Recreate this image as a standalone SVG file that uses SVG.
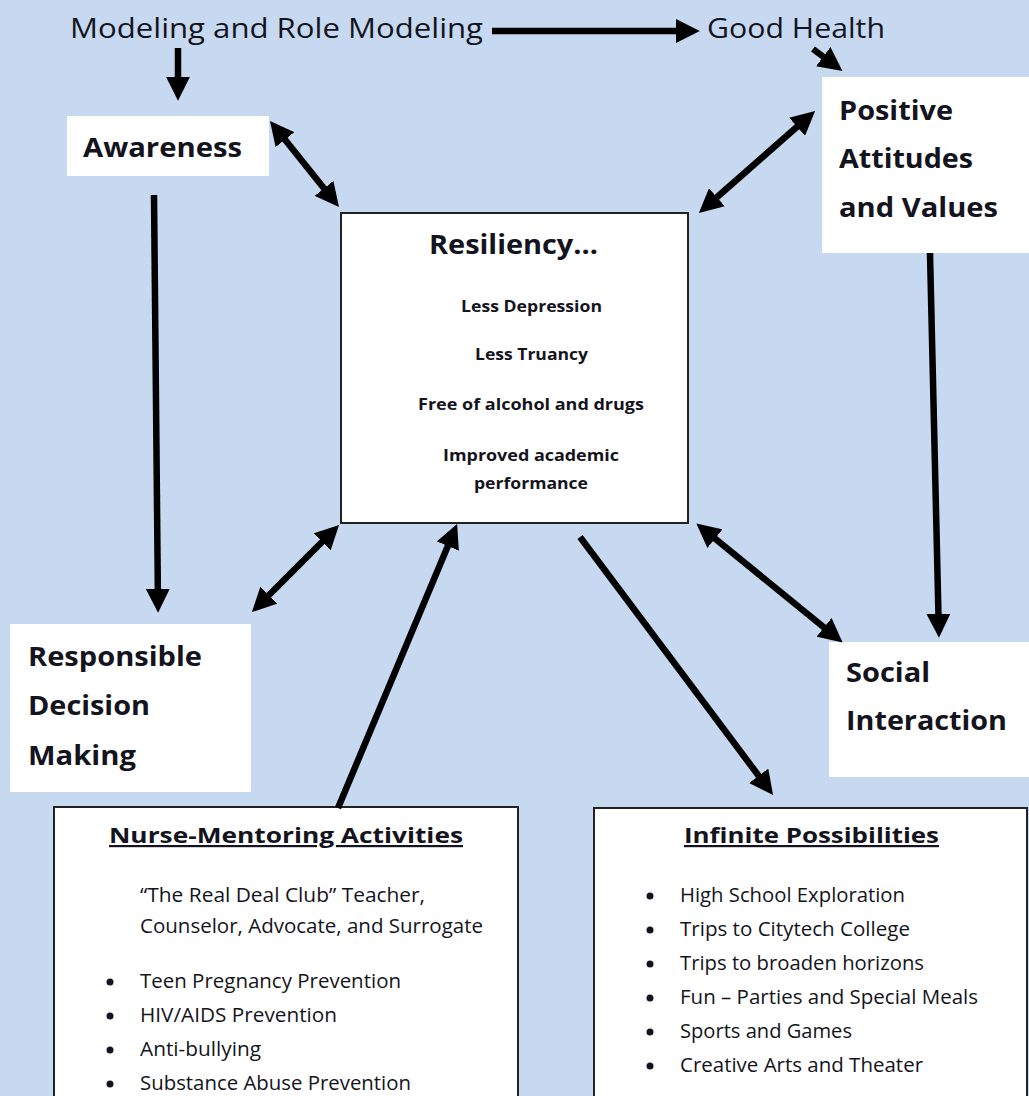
<svg xmlns="http://www.w3.org/2000/svg" width="1029" height="1096" viewBox="0 0 1029 1096">
<style>
text{font-family:"Open Sans","Liberation Sans",sans-serif;fill:#141420}
.top{font-size:28px}
.lbl{font-size:26px;font-weight:bold}
.item{font-size:16px;font-weight:bold}
.head{font-size:22px;font-weight:bold;text-decoration:underline}
.li{font-size:20px}
.plain{fill:#ffffff}
.boxed{fill:#ffffff;stroke:#222;stroke-width:2}
.conn line{stroke:#000;stroke-width:6.5;fill:none}
.one{marker-end:url(#ah)}
.two{marker-start:url(#ah);marker-end:url(#ah)}
</style>
<defs>
<marker id="ah" viewBox="0 0 10 10" refX="3" refY="5" markerWidth="24" markerHeight="24" markerUnits="userSpaceOnUse" orient="auto-start-reverse">
<path d="M0,0 L10,5 L0,10 z" fill="#000"/>
</marker>
</defs>
<rect x="0" y="0" width="1029" height="1096" fill="#c6d9f0"/>

<g id="modeling">
<text class="top" x="70" y="38" textLength="413" lengthAdjust="spacingAndGlyphs">Modeling and Role Modeling</text>
</g>
<g id="good-health">
<text class="top" x="707" y="38" textLength="178" lengthAdjust="spacingAndGlyphs">Good Health</text>
</g>
<g id="awareness">
<rect class="plain" x="67" y="116" width="202" height="60"/>
<text class="lbl" x="83" y="157" textLength="159" lengthAdjust="spacingAndGlyphs">Awareness</text>
</g>
<g id="positive">
<rect class="plain" x="822" y="77" width="207" height="176"/>
<text class="lbl" x="839" y="120" textLength="114" lengthAdjust="spacingAndGlyphs">Positive</text>
<text class="lbl" x="839" y="168" textLength="134" lengthAdjust="spacingAndGlyphs">Attitudes</text>
<text class="lbl" x="839" y="217" textLength="159" lengthAdjust="spacingAndGlyphs">and Values</text>
</g>
<g id="resiliency">
<rect class="boxed" x="341" y="213" width="347" height="310" stroke-width="1.5"/>
<text class="lbl" x="429" y="254" textLength="169" lengthAdjust="spacingAndGlyphs">Resiliency…</text>
<text class="item" x="461" y="312" textLength="141" lengthAdjust="spacingAndGlyphs">Less Depression</text>
<text class="item" x="475" y="360" textLength="113" lengthAdjust="spacingAndGlyphs">Less Truancy</text>
<text class="item" x="418" y="410" textLength="226" lengthAdjust="spacingAndGlyphs">Free of alcohol and drugs</text>
<text class="item" x="443" y="461" textLength="176" lengthAdjust="spacingAndGlyphs">Improved academic</text>
<text class="item" x="474" y="489" textLength="114" lengthAdjust="spacingAndGlyphs">performance</text>
</g>
<g id="decision">
<rect class="plain" x="10" y="624" width="241" height="168"/>
<text class="lbl" x="28" y="666" textLength="174" lengthAdjust="spacingAndGlyphs">Responsible</text>
<text class="lbl" x="28" y="715" textLength="122" lengthAdjust="spacingAndGlyphs">Decision</text>
<text class="lbl" x="28" y="765" textLength="108" lengthAdjust="spacingAndGlyphs">Making</text>
</g>
<g id="social">
<rect class="plain" x="829" y="642" width="200" height="135"/>
<text class="lbl" x="846" y="682" textLength="84" lengthAdjust="spacingAndGlyphs">Social</text>
<text class="lbl" x="846" y="730" textLength="161" lengthAdjust="spacingAndGlyphs">Interaction</text>
</g>
<g id="nurse">
<rect class="boxed" x="54" y="807" width="464" height="300"/>
<text class="head" x="109" y="843" textLength="354" lengthAdjust="spacingAndGlyphs">Nurse-Mentoring Activities</text>
<text class="li" x="140" y="902" textLength="285" lengthAdjust="spacingAndGlyphs">“The Real Deal Club” Teacher,</text>
<text class="li" x="140" y="933" textLength="343" lengthAdjust="spacingAndGlyphs">Counselor, Advocate, and Surrogate</text>
<circle cx="110" cy="982" r="3.5" fill="#141420"/>
<circle cx="110" cy="1016" r="3.5" fill="#141420"/>
<circle cx="110" cy="1050" r="3.5" fill="#141420"/>
<circle cx="110" cy="1084" r="3.5" fill="#141420"/>
<text class="li" x="140" y="988" textLength="261" lengthAdjust="spacingAndGlyphs">Teen Pregnancy Prevention</text>
<text class="li" x="140" y="1022" textLength="197" lengthAdjust="spacingAndGlyphs">HIV/AIDS Prevention</text>
<text class="li" x="140" y="1056" textLength="121" lengthAdjust="spacingAndGlyphs">Anti-bullying</text>
<text class="li" x="140" y="1090" textLength="271" lengthAdjust="spacingAndGlyphs">Substance Abuse Prevention</text>
</g>
<g id="infinite">
<rect class="boxed" x="594" y="808" width="433" height="300"/>
<text class="head" x="684" y="843" textLength="255" lengthAdjust="spacingAndGlyphs">Infinite Possibilities</text>
<circle cx="650" cy="896" r="3.5" fill="#141420"/>
<circle cx="650" cy="930" r="3.5" fill="#141420"/>
<circle cx="650" cy="964" r="3.5" fill="#141420"/>
<circle cx="650" cy="998" r="3.5" fill="#141420"/>
<circle cx="650" cy="1032" r="3.5" fill="#141420"/>
<circle cx="650" cy="1066" r="3.5" fill="#141420"/>
<text class="li" x="680" y="902" textLength="225" lengthAdjust="spacingAndGlyphs">High School Exploration</text>
<text class="li" x="680" y="936" textLength="230" lengthAdjust="spacingAndGlyphs">Trips to Citytech College</text>
<text class="li" x="680" y="970" textLength="244" lengthAdjust="spacingAndGlyphs">Trips to broaden horizons</text>
<text class="li" x="680" y="1004" textLength="298" lengthAdjust="spacingAndGlyphs">Fun – Parties and Special Meals</text>
<text class="li" x="680" y="1038" textLength="172" lengthAdjust="spacingAndGlyphs">Sports and Games</text>
<text class="li" x="680" y="1072" textLength="243" lengthAdjust="spacingAndGlyphs">Creative Arts and Theater</text>
</g>

<g id="connectors" class="conn">
<line class="one" x1="492" y1="31" x2="683" y2="31"/>
<line class="one" x1="178" y1="48" x2="178" y2="84" stroke-width="5"/>
<line class="two" x1="280.5" y1="134" x2="328.5" y2="194"/>
<line class="one" x1="154" y1="195" x2="157.9" y2="596" stroke-width="5"/>
<line class="two" x1="263.8" y1="600.2" x2="327.2" y2="536.8"/>
<line class="one" x1="338" y1="808" x2="450.6" y2="539.4"/>
<line class="one" x1="580" y1="537" x2="763" y2="781.6"/>
<line class="two" x1="709.4" y1="534.1" x2="829.6" y2="631.9"/>
<line class="one" x1="930" y1="253" x2="938.6" y2="621"/>
<line class="two" x1="711.5" y1="202" x2="802.5" y2="122"/>
<line class="one" x1="813" y1="49" x2="829" y2="61"/>
</g>
</svg>
